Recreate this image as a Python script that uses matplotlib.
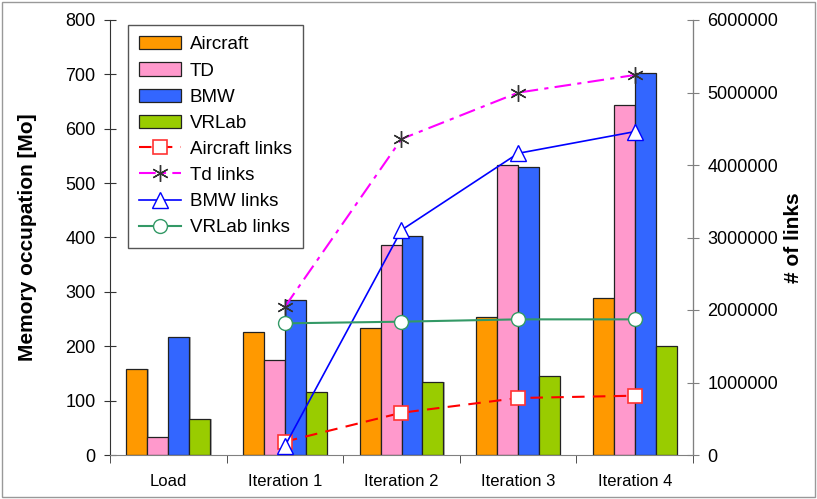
import matplotlib
matplotlib.use('Agg')
import matplotlib.pyplot as plt
import numpy as np

plt.rcParams['font.family'] = ['Liberation Sans', 'DejaVu Sans']

# data
cats = ['Load', 'Iteration 1', 'Iteration 2', 'Iteration 3', 'Iteration 4']
aircraft = [158, 226, 233, 254, 289]
td = [33, 175, 386, 533, 643]
bmw = [217, 285, 403, 530, 703]
vrlab = [66, 116, 135, 145, 200]

# links (Load has none)
aircraft_links = [184000, 583000, 786000, 818000]
td_links = [2045000, 4359000, 4998000, 5241000]
bmw_links = [124000, 3103000, 4161000, 4460000]
vrlab_links = [1816000, 1839000, 1871000, 1871000]

fig = plt.figure(figsize=(8.17, 4.99), dpi=100)
ax = fig.add_axes([110/817, 1-455/499, 583/817, 435/499])
ax2 = ax.twinx()

x = np.arange(len(cats))
w = 0.18
bars = [(aircraft, '#FF9900', 'Aircraft'), (td, '#FF99CC', 'TD'),
        (bmw, '#3366FF', 'BMW'), (vrlab, '#99CC00', 'VRLab')]
handles = []
for i, (vals, col, lab) in enumerate(bars):
    off = (i - 1.5) * w
    # soft shadow
    ax.bar(x + off + 0.012, vals, w, color='#b0b0b0', zorder=1)
    h = ax.bar(x + off, vals, w, color=col, edgecolor='#222222', linewidth=0.9,
               label=lab, zorder=2)
    handles.append(h)

xl = x[1:]
l1, = ax2.plot(xl, aircraft_links, color='#FF0000', ls=(0, (6, 4)), lw=1.5,
               marker='s', ms=10, mfc='white', mec='#FF3333', mew=1.2, label='Aircraft links')
l2, = ax2.plot(xl, td_links, color='#FF00FF', ls=(0, (8, 3, 2, 3)), lw=1.5,
               marker=(6, 2, 0), ms=12, mec='#333333', mew=1.0, label='Td links')
l3, = ax2.plot(xl, bmw_links, color='#0000FF', ls='-', lw=1.2,
               marker='^', ms=11, mfc='white', mec='#0000FF', mew=1.0, label='BMW links')
l4, = ax2.plot(xl, vrlab_links, color='#339966', ls='-', lw=1.5,
               marker='o', ms=10, mfc='white', mec='#339966', mew=1.0, label='VRLab links')
handles += [l1, l2, l3, l4]

ax.set_xlim(-0.5, len(cats) - 0.5)
ax.set_ylim(0, 800)
ax.set_yticks(range(0, 801, 100))
ax2.set_ylim(0, 6000000)
ax2.set_yticks(range(0, 6000001, 1000000))
ax2.set_yticklabels([str(v) for v in range(0, 6000001, 1000000)])

ax.set_xticks(x)
ax.set_xticklabels(cats, fontsize=12)
ax.set_xticks(np.arange(-0.5, len(cats), 1), minor=True)
ax.tick_params(axis='x', which='major', length=0, pad=14)
ax.tick_params(axis='x', which='minor', length=6, direction='out', color='#333333')
ax.tick_params(axis='y', direction='inout', length=9, labelsize=13, color='#333333', pad=6)
ax2.tick_params(axis='y', direction='inout', length=9, labelsize=13, color='#808080', pad=6)

ax.set_ylabel('Memory occupation [Mo]', fontsize=15, fontweight='bold', labelpad=20)
ax2.set_ylabel('# of links', fontsize=15, fontweight='bold', labelpad=4)

for a in (ax, ax2):
    a.spines['top'].set_visible(False)
ax.spines['left'].set_color('#333333')
ax.spines['bottom'].set_color('#808080')
ax2.spines['right'].set_color('#808080')
ax2.spines['left'].set_visible(False)
ax2.spines['bottom'].set_visible(False)

ax.set_zorder(1)
ax2.set_zorder(2)
ax2.patch.set_visible(False)

leg = ax2.legend(handles=handles, loc='upper left', bbox_to_anchor=(0.015, 1.01),
                 fontsize=13.5, frameon=True, fancybox=False, edgecolor='#555555',
                 handlelength=2.2, handletextpad=0.5, labelspacing=0.48,
                 borderpad=0.6, framealpha=1)
leg.get_frame().set_linewidth(1.0)

# figure border
fig.patches.append(plt.Rectangle((0.002, 0.004), 0.996, 0.992, transform=fig.transFigure,
                                 fill=False, edgecolor='#999999', lw=1))

fig.savefig('out.png', dpi=100)
